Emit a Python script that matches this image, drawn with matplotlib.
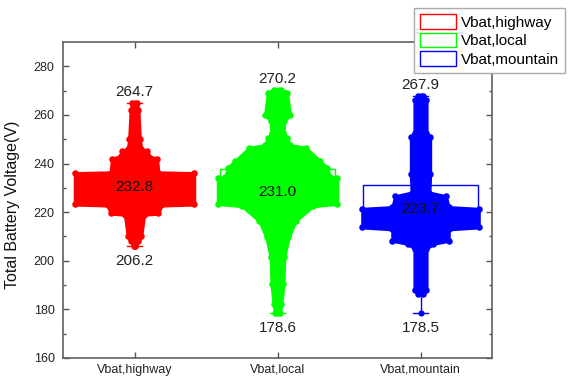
import numpy as np
from matplotlib import pyplot as plt
from matplotlib.patches import Patch

# routes and summary values (V)
routes = ["Vbat,highway", "Vbat,local", "Vbat,mountain"]
colors = ["#ff0000", "#00ff00", "#0000ff"]
v_max = [264.7, 270.2, 267.9]
v_min = [206.2, 178.6, 178.5]
v_center = [232.8, 231.0, 223.7]
q1 = [228.5, 223.0, 217.0]
q3 = [235.0, 237.6, 231.0]

# outline of the point cloud: voltage level -> half width (x units)
highway_v = [264.7, 262, 250, 246, 245, 243, 242, 236.3, 236, 223.2, 222.8, 219.5, 219, 210, 208, 206.2]
highway_w = [0.03, 0.04, 0.05, 0.06, 0.10, 0.11, 0.17, 0.18, 0.43, 0.43, 0.20, 0.18, 0.08, 0.06, 0.04, 0.02]

local_v = [270.2, 269, 260, 257.5, 252.5, 250.6, 247.5, 246.5, 241, 238.3, 234.5, 234, 223.5, 222.5,
           216.4, 209.6, 201.4, 190.5, 182.3, 178.6]
local_w = [0.035, 0.08, 0.10, 0.06, 0.055, 0.08, 0.10, 0.21, 0.31, 0.36, 0.38, 0.43, 0.43, 0.26,
           0.14, 0.09, 0.06, 0.055, 0.04, 0.03]

mountain_v = [267.9, 266, 252.5, 251, 235.5, 228, 226.5, 222, 221.3, 213.8, 213, 208.3, 207, 205, 188, 186.4]
mountain_w = [0.03, 0.055, 0.055, 0.08, 0.08, 0.075, 0.19, 0.21, 0.42, 0.42, 0.21, 0.21, 0.10, 0.055, 0.055, 0.03]

profiles = [(highway_v, highway_w), (local_v, local_w), (mountain_v, mountain_w)]


def main():
    plt.rcParams['font.family'] = ['Liberation Sans', 'DejaVu Sans']
    fig = plt.figure(figsize=(5.7, 3.78), dpi=100)
    ax = fig.add_axes([63 / 570, 1 - 358 / 378, 429 / 570, 316 / 378])

    pos = np.arange(1, len(routes) + 1)
    edge = 2.0 / 143  # bump radius in x units

    # boxes and whiskers
    stats = []
    for i in range(len(routes)):
        stats.append(dict(med=v_center[i], q1=q1[i], q3=q3[i], whislo=v_min[i], whishi=v_max[i]))
    bp = ax.bxp(stats, positions=pos, widths=0.8, capwidths=0.11, showfliers=False, patch_artist=False,
                manage_ticks=False, medianprops=dict(visible=False))
    for i, c in enumerate(colors):
        bp['boxes'][i].set(color=c, linewidth=1, zorder=1)
        for ln in bp['whiskers'][2 * i:2 * i + 2] + bp['caps'][2 * i:2 * i + 2]:
            ln.set(color=c, linewidth=1, zorder=1)

    # point clouds
    for i, (v, w) in enumerate(profiles):
        v = np.array(v)
        w = np.array(w)
        c = colors[i]
        ax.fill_betweenx(v, pos[i] - w + edge, pos[i] + w - edge, color=c, linewidth=2.5,
                         edgecolor=c, joinstyle='round', zorder=2)
        ax.scatter(np.r_[pos[i] - w + edge, pos[i] + w - edge], np.r_[v, v], s=22, color=c,
                   linewidths=0, zorder=2)
        ax.scatter([pos[i], pos[i]], [v_min[i], v_max[i]], s=20, color=c, marker='o', linewidths=0, zorder=3)

    # value labels
    for i in range(len(routes)):
        ax.annotate(f"{v_max[i]:.1f}", (pos[i], v_max[i]), xytext=(0, 3), textcoords='offset points',
                    ha='center', va='bottom', fontsize=11, color='#222222', zorder=4)
        ax.annotate(f"{v_min[i]:.1f}", (pos[i], v_min[i]), xytext=(0, -6), textcoords='offset points',
                    ha='center', va='top', fontsize=11, color='#222222', zorder=4)
        ax.annotate(f"{v_center[i]:.1f}", (pos[i], v_center[i]), xytext=(0, -4.5), textcoords='offset points',
                    ha='center', va='center', fontsize=11, color='#111111', zorder=4)

    ax.set_xlim(0.5, 3.5)
    ax.set_ylim(160, 290)
    ax.set_xticks(pos)
    ax.set_xticklabels(routes)
    ax.set_yticks(np.arange(160, 281, 20))
    ax.set_yticks(np.arange(170, 290, 20), minor=True)
    ax.tick_params(which='both', direction='in', top=True, right=True, colors='#555555',
                   labelcolor='#222222', labelsize=9)
    ax.tick_params(which='major', length=4.5, width=1)
    ax.tick_params(which='minor', length=2.5, width=1)
    ax.tick_params(axis='y', pad=6)
    ax.tick_params(axis='x', pad=4)
    for s in ax.spines.values():
        s.set_color('#606060')
        s.set_linewidth(1.2)

    ax.set_ylabel("Total Battery Voltage(V)", fontsize=11.5, color='#111111')
    ax.yaxis.set_label_coords(-0.1, 0.485)

    handles = [Patch(facecolor='none', edgecolor=c, linewidth=1) for c in colors]
    fig.legend(handles, routes, loc='upper left', bbox_to_anchor=(414 / 570, 1 - 8 / 378), fontsize=11,
               frameon=True, fancybox=False, edgecolor='#aaaaaa', framealpha=1, handlelength=2.35,
               handleheight=1.1, handletextpad=0.3, labelspacing=0.2, borderpad=0.4, borderaxespad=0)

    plt.savefig('out.png', dpi=100)
    plt.close()


if __name__ == "__main__":
    main()
